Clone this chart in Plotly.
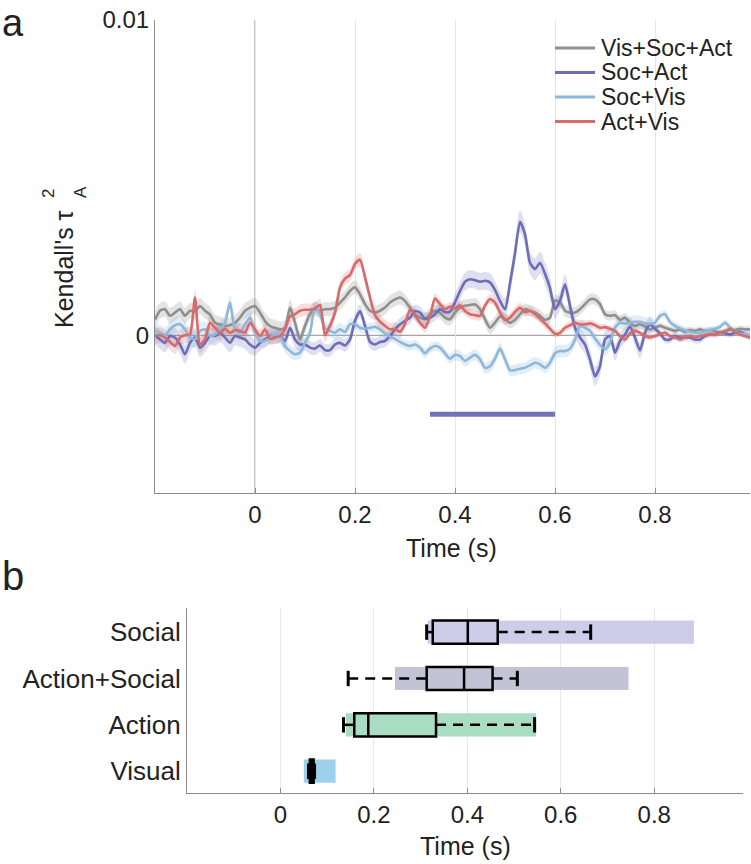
import numpy as np
import plotly.graph_objects as go

# ---------------- Panel a data (values in units of 1e-3) ----------------
TIME = np.round(np.arange(-0.20, 0.995, 0.01), 2)

VIS_SOC_ACT = [0.50, 0.78, 0.83, 0.62, 0.72, 0.83, 0.62, 0.78, 0.76, 0.93, 0.78, 0.66, 0.40, 0.35, 0.29, 0.33, 0.40, 0.56, 0.78, 0.88, 0.93,
               0.72, 0.45, 0.29, 0.24, 0.19, 0.24, 0.88, 0.40, -0.13, 0.30,
               0.67, 0.83, 0.78, 0.83, 0.83, 0.88, 1.04, 1.20, 1.41, 1.52,
               1.30, 0.99, 0.78, 0.72, 0.78, 0.88, 1.04, 1.14, 1.20, 1.09,
               0.88, 0.67, 0.56, 0.51, 0.67, 0.78, 0.72, 0.56, 0.51, 0.72,
               0.88, 0.94, 0.96, 0.98, 0.83, 0.51, 0.24, 0.40, 0.60, 0.51,
               0.40, 0.49, 0.67, 0.83, 0.78, 0.72, 0.62, 0.49, 0.56, 1.10,
               1.05, 0.78, 0.72, 0.72, 0.83, 0.99, 1.14, 1.14, 0.99, 0.67,
               0.62, 0.64, 0.49, 0.56, 0.40, 0.30, 0.35, 0.28, 0.19, 0.24,
               0.30, 0.24, 0.19, 0.14, 0.19, 0.11, 0.17, 0.14, 0.19, 0.14,
               0.17, 0.13, 0.08, 0.14, 0.19, 0.17, 0.21, 0.19, 0.19]

SOC_ACT = [0.00, -0.13, -0.24, -0.02, -0.07, -0.29, -0.60, -0.24, -0.07, -0.39, -0.24, -0.02, -0.02, 0.08, -0.07, -0.24, -0.02, -0.07, -0.13, -0.29, -0.39,
           -0.24, -0.13, -0.02, -0.02, -0.02, -0.18, 0.24, -0.13, -0.29, -0.29,
           -0.39, -0.42, -0.32, -0.47, -0.47, -0.29, -0.24, -0.32, -0.13, 0.46,
           0.77, 0.30, -0.21, -0.29, -0.21, -0.18, -0.02, 0.19, 0.35, 0.46,
           0.56, 0.77, 0.72, 0.53, 0.56, 0.67, 0.83, 0.74, 0.75, 1.05,
           1.40, 1.70, 1.78, 1.75, 1.70, 1.73, 1.68, 1.44, 1.09, 0.83,
           1.65, 2.60, 3.60, 3.20, 2.30, 2.10, 2.30, 1.95, 1.50, 0.83,
           1.09, 1.62, 0.94, 0.24, -0.07, -0.29, -0.76, -1.30, -0.98, -0.13,
           -0.02, -0.55, -0.18, 0.03, 0.28, -0.07, -0.48, 0.08, 0.35, 0.21,
           0.06, -0.13, -0.13, -0.02, -0.07, -0.07, -0.07, -0.13, -0.13, -0.02,
           0.03, 0.03, 0.08, 0.06, 0.03, 0.08, 0.11, 0.03, -0.02]

SOC_VIS = [0.14, 0.08, 0.00, 0.19, 0.32, 0.35, 0.19, -0.07, -0.13, 0.14, 0.19, -0.02, 0.03, 0.19, 0.40, 1.04, 0.19, 0.08, 0.35, 0.56, 0.08,
           -0.18, -0.18, -0.07, 0.03, -0.02, -0.34, -0.50, -0.60, -0.55, -0.24,
           0.08, 0.90, 0.67, 0.24, 0.14, 0.08, 0.19, 0.11, 0.35, 0.35,
           0.24, 0.21, 0.24, 0.27, 0.19, 0.06, -0.04, -0.11, -0.21, -0.29,
           -0.34, -0.29, -0.39, -0.57, -0.42, -0.34, -0.39, -0.57, -0.74, -0.62,
           -0.66, -0.81, -0.71, -0.62, -0.76, -1.03, -0.98, -0.74, -0.42, -0.76,
           -1.11, -1.10, -1.06, -1.03, -0.95, -0.87, -0.92, -1.03, -0.87, -0.57,
           -0.50, -0.50, -0.42, -0.13, 0.30, 0.24, 0.14, -0.10, -0.30, -0.45,
           -0.23, 0.25, 0.40, 0.37, 0.40, 0.43, 0.42, 0.38, 0.37, 0.40,
           0.62, 0.67, 0.42, 0.30, 0.22, 0.16, 0.11, 0.08, 0.08, 0.13,
           0.17, 0.21, 0.27, 0.40, 0.25, 0.11, 0.06, 0.03, 0.00]

ACT_VIS = [-0.02, 0.00, -0.07, -0.21, -0.34, -0.07, 0.00, 0.03, 1.20, -0.29, -0.13, 0.40, 0.24, 0.08, 0.21, 0.08, 0.17, 0.14, 0.08, 0.40, 0.19,
           -0.02, 0.19, -0.11, -0.07, -0.02, 0.19, 0.60, 0.67, 0.78, 0.81,
           0.81, 0.85, 0.96, 0.00, 0.30, 0.72, 1.52, 1.80, 1.91, 2.26,
           2.40, 1.84, 1.20, 0.64, 0.43, 0.30, 0.19, 0.21, 0.11, 0.37,
           0.81, 0.64, 0.40, 0.24, 0.60, 1.17, 0.99, 0.83, 0.91, 0.85,
           0.95, 0.77, 0.67, 0.64, 0.62, 0.94, 1.15, 1.04, 0.72, 0.49,
           0.56, 0.74, 0.88, 0.74, 0.77, 0.67, 0.53, 0.38, 0.21, 0.05,
           0.08, 0.24, 0.32, 0.40, 0.35, 0.35, 0.38, 0.32, 0.24, 0.26,
           0.21, 0.14, -0.02, -0.13, 0.06, 0.14, 0.08, -0.02, -0.07, -0.02,
           0.03, 0.08, -0.02, -0.07, -0.13, -0.07, -0.02, -0.07, -0.02, 0.00,
           0.03, 0.03, 0.08, 0.11, 0.21, 0.11, 0.03, -0.02, -0.07]

# error-band half widths per 0.1 s block (units 1e-3)
SEM_VSA = [0.25, 0.25, 0.25, 0.22, 0.22, 0.20, 0.20, 0.18, 0.18, 0.15, 0.10, 0.10]
SEM_SA = [0.30, 0.30, 0.25, 0.20, 0.20, 0.20, 0.28, 0.35, 0.30, 0.25, 0.12, 0.10]
SEM_SV = [0.25, 0.25, 0.20, 0.20, 0.15, 0.15, 0.18, 0.18, 0.20, 0.20, 0.12, 0.10]
SEM_AV = [0.25, 0.25, 0.20, 0.20, 0.20, 0.15, 0.15, 0.15, 0.12, 0.10, 0.08, 0.08]
UNIT = 1e-3

SERIES_NAMES = ["Vis+Soc+Act", "Soc+Act", "Soc+Vis", "Act+Vis"]
SERIES_COLORS = ["#8f8f8f", "#6d6db8", "#8db8da", "#d86a6a"]
BAND_COLORS = ["rgba(143,143,143,0.25)", "rgba(109,109,184,0.22)", "rgba(141,184,218,0.25)", "rgba(216,106,106,0.22)"]

SIG_START, SIG_END, SIG_Y = 0.35, 0.60, -0.0025

# ---------------- Panel b data ----------------
CATS = ["Social", "Action+Social", "Action", "Visual"]
RANGE_START = [0.315, 0.245, 0.140, 0.050]
RANGE_END = [0.885, 0.745, 0.547, 0.118]
WHISK_LO = [0.313, 0.145, 0.135, 0.060]
Q1 = [0.326, 0.313, 0.158, 0.063]
MED = [0.401, 0.393, 0.188, 0.067]
Q3 = [0.465, 0.454, 0.333, 0.071]
WHISK_HI = [0.664, 0.507, 0.544, 0.073]
CAT_COLORS = ["#cdcdea", "#c4c3d5", "#a9ddc1", "#9dd0ea"]

XTICKS = [0, 0.2, 0.4, 0.6, 0.8]

W, H = 751, 864
FONT = "Liberation Sans, Arial, Helvetica, sans-serif"
TXT = "#222222"


def px(x):
    return x / W


def py(y):
    return 1 - y / H


fig = go.Figure()

series = [VIS_SOC_ACT, SOC_ACT, SOC_VIS, ACT_VIS]
sems = [SEM_VSA, SEM_SA, SEM_SV, SEM_AV]
t = TIME
for vals, sem, bc in zip(series, sems, BAND_COLORS):
    v = np.array(vals) * UNIT
    s = np.repeat(sem, 10)[: len(t)] * UNIT
    fig.add_trace(go.Scatter(
        x=np.concatenate([t, t[::-1]]),
        y=np.concatenate([v + s, (v - s)[::-1]]),
        fill="toself", fillcolor=bc, line=dict(width=0, shape="spline"),
        mode="lines", hoverinfo="skip", showlegend=False, xaxis="x", yaxis="y"))

for vals, name, col in zip(series, SERIES_NAMES, SERIES_COLORS):
    fig.add_trace(go.Scatter(
        x=t, y=np.array(vals) * UNIT, mode="lines", name=name,
        line=dict(color=col, width=2.6, shape="spline", smoothing=0.6),
        showlegend=False, xaxis="x", yaxis="y"))

fig.add_trace(go.Scatter(
    x=[SIG_START, SIG_END], y=[SIG_Y, SIG_Y], mode="lines",
    line=dict(color="#7272bb", width=5), showlegend=False, xaxis="x", yaxis="y"))

# ---- Panel b ----
fig.add_trace(go.Bar(
    y=CATS, x=[e - s for s, e in zip(RANGE_START, RANGE_END)], base=RANGE_START,
    orientation="h", marker=dict(color=CAT_COLORS, line=dict(width=0)),
    width=0.5, showlegend=False, xaxis="x2", yaxis="y2", hoverinfo="skip"))

wx, wy = [], []
for c, lo, a, b, hi in zip(CATS, WHISK_LO, Q1, Q3, WHISK_HI):
    wx += [lo, a, None, b, hi, None]
    wy += [c, c, None, c, c, None]
fig.add_trace(go.Scatter(
    x=wx, y=wy, mode="lines", line=dict(color="black", width=2.5, dash="10px,7px"),
    showlegend=False, xaxis="x2", yaxis="y2", hoverinfo="skip"))

fig.add_trace(go.Scatter(
    x=WHISK_LO + WHISK_HI, y=CATS + CATS, mode="markers",
    marker=dict(symbol="line-ns", size=11, line=dict(color="black", width=3)),
    showlegend=False, xaxis="x2", yaxis="y2", hoverinfo="skip"))

fig.add_trace(go.Box(
    y=CATS, q1=Q1, median=MED, q3=Q3, lowerfence=Q1, upperfence=Q3,
    orientation="h", fillcolor="rgba(0,0,0,0)", line=dict(color="black", width=2.5),
    width=0.5, whiskerwidth=0, boxpoints=False, showlegend=False,
    xaxis="x2", yaxis="y2", hoverinfo="skip"))

axis_line = "#8c8c8c"
fig.update_layout(
    width=W, height=H, margin=dict(l=0, r=0, t=0, b=0),
    paper_bgcolor="white", plot_bgcolor="white",
    font=dict(family=FONT, size=24, color=TXT),
    barmode="overlay", boxmode="overlay", showlegend=False,
    xaxis=dict(domain=[px(155), px(750)], range=[-0.2, 0.99], anchor="y",
               tickvals=XTICKS, ticktext=["0", "0.2", "0.4", "0.6", "0.8"],
               ticks="inside", ticklen=5, tickcolor=axis_line,
               showgrid=True, gridcolor="#e6e6e6", gridwidth=1, zeroline=False,
               showline=True, linecolor=axis_line, linewidth=1,
               tickfont=dict(size=24), automargin=False),
    yaxis=dict(domain=[py(493), py(20)], range=[-0.005, 0.01], anchor="x",
               tickvals=[0, 0.01], ticktext=["0", "0.01"],
               ticks="inside", ticklen=5, tickcolor=axis_line,
               showgrid=False, zeroline=False, showline=True,
               linecolor=axis_line, linewidth=1, tickfont=dict(size=24), automargin=False),
    xaxis2=dict(domain=[px(187), px(743)], range=[-0.2, 0.99], anchor="y2",
                tickvals=XTICKS, ticktext=["0", "0.2", "0.4", "0.6", "0.8"],
                ticks="inside", ticklen=5, tickcolor=axis_line,
                showgrid=True, gridcolor="#e8e8e8", zeroline=False,
                showline=True, linecolor=axis_line, linewidth=1,
                tickfont=dict(size=24), automargin=False),
    yaxis2=dict(domain=[py(793), py(608)], type="category",
                categoryorder="array", categoryarray=CATS[::-1],
                range=[-0.47, 3.52], anchor="x2", ticks="", showgrid=False,
                zeroline=False, showline=True, linecolor=axis_line, linewidth=1,
                tickfont=dict(size=26), automargin=False),
)

# reference lines in panel a
fig.add_shape(type="line", xref="x", yref="y domain", x0=0, x1=0, y0=0, y1=1,
              line=dict(color="#b3b3b3", width=1.5), layer="below")
fig.add_shape(type="line", xref="x domain", yref="y", x0=0, x1=1, y0=0, y1=0,
              line=dict(color="#a6a6a6", width=1.2), layer="below")

# legend (MATLAB-style compact rows)
LEG_ROWS = [48, 72.5, 97, 121.5]
for name, col, ry in zip(SERIES_NAMES, SERIES_COLORS, LEG_ROWS):
    fig.add_shape(type="line", xref="paper", yref="paper", x0=px(555), x1=px(595),
                  y0=py(ry), y1=py(ry), line=dict(color=col, width=3))
    fig.add_annotation(text=name, x=px(599), y=py(ry), xref="paper", yref="paper",
                       xanchor="left", yanchor="middle", showarrow=False,
                       font=dict(size=23))

ann = [
    dict(text="a", x=px(0), y=1.0, xanchor="left", yanchor="top", font=dict(size=38)),
    dict(text="b", x=px(0), y=py(576), xanchor="left", yanchor="middle", font=dict(size=40)),
    dict(text="Time (s)", x=px(452), y=py(548), xanchor="center", yanchor="middle", font=dict(size=25)),
    dict(text="Time (s)", x=px(465), y=py(846), xanchor="center", yanchor="middle", font=dict(size=25)),
    dict(text="Kendall's τ", x=px(64), y=py(269), xanchor="center", yanchor="middle",
         textangle=-90, font=dict(size=25)),
    dict(text="2", x=px(49), y=py(194), xanchor="center", yanchor="middle",
         textangle=-90, font=dict(size=17)),
    dict(text="A", x=px(80), y=py(192), xanchor="center", yanchor="middle",
         textangle=-90, font=dict(size=17)),
]
for a in ann:
    a.update(xref="paper", yref="paper", showarrow=False)
    fig.add_annotation(**a)

fig.write_html(
    "out.html",
    config={"displayModeBar": False},
    post_script="document.documentElement.style.margin='0';document.body.style.margin='0';"
                "document.body.style.overflow='hidden';")
